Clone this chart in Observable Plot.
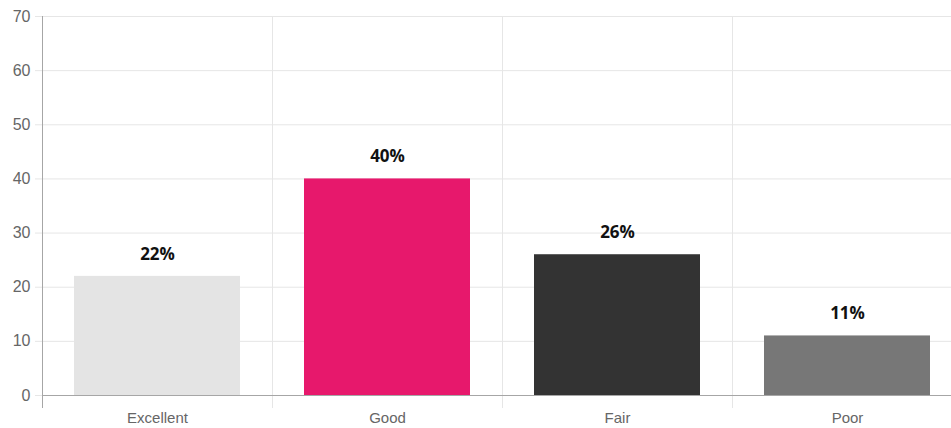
<!DOCTYPE html>
<html>
<head>
<meta charset="utf-8">
<script src="https://cdn.jsdelivr.net/npm/d3@7"></script>
<script src="https://cdn.jsdelivr.net/npm/@observablehq/plot@0.6"></script>
<style>
  html, body { margin: 0; padding: 0; background: #fff; overflow: hidden; }
</style>
</head>
<body>
<div id="chart"></div>
<script>
const categories = ["Excellent", "Good", "Fair", "Poor"];
const values = [22, 40, 26, 11];
const barColors = ["#e4e4e4", "#e7186c", "#333333", "#777777"];
const yTicks = [0, 10, 20, 30, 40, 50, 60, 70];
const boundaries = [0, 1, 2, 3, 4];
const centers = [0.5, 1.5, 2.5, 3.5];

const data = categories.map((c, i) => ({ c, i, v: values[i] }));

const chart = Plot.plot({
  width: 951,
  height: 428,
  marginTop: 16,
  marginBottom: 33,
  marginLeft: 42,
  marginRight: -11,
  style: { fontFamily: "'Liberation Sans', Arial, sans-serif", background: "#fff" },
  x: { type: "linear", domain: [0, 4], axis: null },
  y: { domain: [0, 70], axis: null },
  color: { domain: categories, range: barColors },
  marks: [
    Plot.ruleY(yTicks.filter(d => d !== 0), { stroke: "#e6e6e6", strokeWidth: 1 }),
    Plot.ruleX(boundaries.slice(1), { y1: 70, y2: 0, stroke: "#e6e6e6", insetBottom: -13 }),
    Plot.axisY({ ticks: yTicks, label: null, tickSize: 7, tickPadding: 5, fontSize: 16, color: "#666", stroke: "#e6e6e6", strokeOpacity: 1 }),
    Plot.rectY(data, { x1: "i", x2: d => d.i + 1, y: "v", fill: "c", insetLeft: 32, insetRight: 32 }),
    Plot.ruleY([0], { stroke: "#a6a6a6" }),
    Plot.ruleX([0], { y1: 70, y2: 0, stroke: "#a6a6a6", insetBottom: -13 }),
    Plot.axisX({ ticks: centers, label: null, tickFormat: d => categories[Math.floor(d)], tickSize: 0, tickPadding: 17, fontSize: 15, color: "#666" }),
    Plot.text(data, { x: d => d.i + 0.5, y: "v", text: d => d.v + "%", dy: -22, fontSize: 17, fontWeight: "bold", fill: "#111", fontFamily: "'Open Sans', sans-serif" })
  ]
});
document.getElementById("chart").appendChild(chart);
</script>
</body>
</html>
